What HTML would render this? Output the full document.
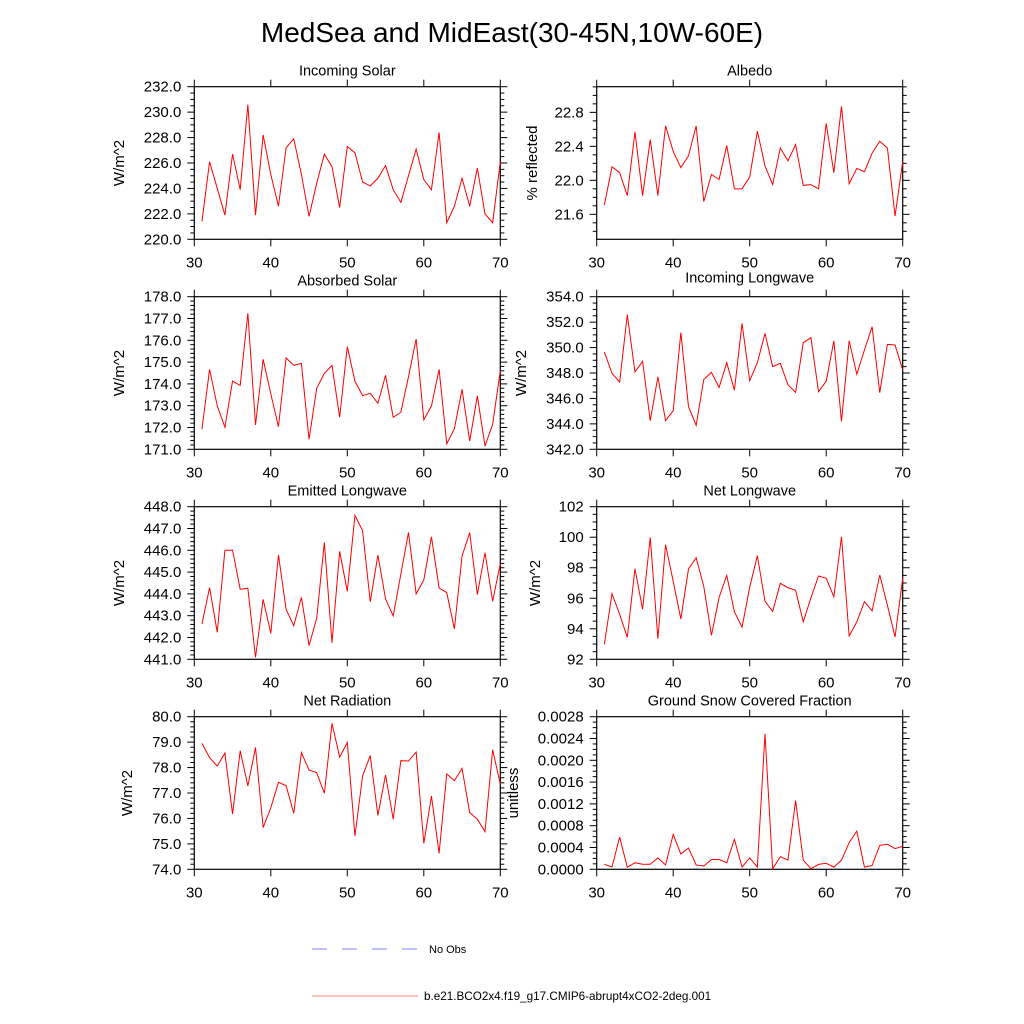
<!DOCTYPE html>
<html><head><meta charset="utf-8">
<style>
html,body{margin:0;padding:0;background:#fff;}
svg{display:block;font-family:"Liberation Sans",Arial,sans-serif;}
</style></head>
<body>
<svg id="chart" width="1024" height="1024" viewBox="0 0 1024 1024">
<text x="512" y="42" text-anchor="middle" font-size="28">MedSea and MidEast(30-45N,10W-60E)</text>
<g id="panels"></g>
<g>
  <line x1="312" y1="949" x2="418" y2="949" stroke="#8080ff" stroke-width="1" stroke-dasharray="15,15"/>
  <text x="429" y="953" font-size="11">No Obs</text>
  <line x1="312" y1="996" x2="418" y2="996" stroke="#ff8080" stroke-width="1"/>
  <text x="424" y="1000" font-size="11.7">b.e21.BCO2x4.f19_g17.CMIP6-abrupt4xCO2-2deg.001</text>
</g>
</svg>
<script>
const years = [31,32,33,34,35,36,37,38,39,40,41,42,43,44,45,46,47,48,49,50,51,52,53,54,55,56,57,58,59,60,61,62,63,64,65,66,67,68,69,70];
const incomingSolar = [221.4,226.1,224.0,221.9,226.7,223.9,230.6,221.9,228.2,225.1,222.6,227.2,227.9,225.1,221.8,224.4,226.7,225.7,222.5,227.3,226.8,224.5,224.2,224.8,225.8,223.9,222.9,225.0,227.1,224.7,223.9,228.4,221.3,222.6,224.8,222.6,225.6,222.0,221.3,226.1];
const albedo = [21.71,22.16,22.09,21.82,22.57,21.82,22.48,21.82,22.64,22.34,22.15,22.29,22.64,21.75,22.07,22.01,22.41,21.90,21.90,22.04,22.58,22.17,21.95,22.38,22.23,22.42,21.94,21.95,21.90,22.67,22.09,22.87,21.96,22.14,22.10,22.32,22.46,22.38,21.58,22.22];
const absorbedSolar = [171.92,174.67,172.99,172.01,174.13,173.93,177.24,172.12,175.13,173.54,172.04,175.19,174.85,174.94,171.46,173.80,174.48,174.85,172.47,175.71,174.12,173.46,173.57,173.11,174.39,172.47,172.70,174.33,176.06,172.35,172.99,174.67,171.25,171.95,173.75,171.38,173.45,171.15,172.15,174.61];
const incomingLongwave = [349.65,347.97,347.29,352.59,348.08,348.92,344.25,347.71,344.25,345.04,351.17,345.35,343.89,347.50,348.05,346.87,348.81,346.64,351.90,347.40,348.81,351.12,348.50,348.76,347.08,346.48,350.38,350.78,346.53,347.35,350.52,344.20,350.54,347.90,349.81,351.64,346.45,350.25,350.20,348.24];
const emittedLongwave = [442.62,444.29,442.24,446.00,446.01,444.21,444.26,441.09,443.75,442.19,445.78,443.29,442.54,443.84,441.63,442.88,446.36,441.76,445.95,444.12,447.60,446.90,443.64,445.78,443.77,442.99,444.91,446.82,444.00,444.64,446.62,444.27,444.06,442.39,445.74,446.81,443.97,445.89,443.66,445.40];
const netLongwave = [92.98,96.30,94.95,93.44,97.94,95.28,99.99,93.35,99.51,97.11,94.64,97.92,98.66,96.76,93.57,96.06,97.50,95.12,94.10,96.72,98.79,95.80,95.14,96.98,96.69,96.52,94.45,96.02,97.46,97.31,96.10,100.03,93.53,94.45,95.78,95.17,97.52,95.54,93.46,97.31];
const netRadiation = [78.95,78.39,78.06,78.57,76.17,78.66,77.28,78.79,75.64,76.42,77.42,77.29,76.20,78.59,77.90,77.80,76.99,79.74,78.41,78.99,75.31,77.67,78.47,76.12,77.71,75.97,78.27,78.26,78.61,75.02,76.88,74.63,77.75,77.48,77.97,76.23,75.97,75.48,78.70,77.35];
const snowFraction = [0.000092,0.000043,0.00059,0.000037,0.00012,0.000092,0.000092,0.00021,0.00008,0.00064,0.00028,0.00039,0.00008,0.00006,0.00018,0.00018,0.00012,0.00055,0.00004,0.00021,0.00004,0.00249,0.00001,0.00023,0.00017,0.00126,0.00017,0.00001,0.00009,0.00011,0.00004,0.00017,0.00049,0.0007,0.00004,0.00007,0.00044,0.00046,0.00038,0.00042];
const xTicks = [30,40,50,60,70];

const NS = 'http://www.w3.org/2000/svg';
const root = document.getElementById('panels');
function mk(tag, attrs, parent){
  const e = document.createElementNS(NS, tag);
  for (const k in attrs) e.setAttribute(k, attrs[k]);
  parent.appendChild(e);
  return e;
}
const panels = [
  {key:'incoming-solar', title:'Incoming Solar', ylab:'W/m^2', data:incomingSolar, col:0,row:0, ymin:220,ymax:232, major:2, minor:0.5, dec:1, titleDy:0, ylx:124},
  {key:'albedo', title:'Albedo', ylab:'% reflected', data:albedo, col:1,row:0, ymin:21.306,ymax:23.102, major:0.4, minor:0.1, dec:1, start:21.6, titleDy:0, ylx:537},
  {key:'absorbed-solar', title:'Absorbed Solar', ylab:'W/m^2', data:absorbedSolar, col:0,row:1, ymin:171,ymax:178, major:1, minor:0.2, dec:1, titleDy:0, ylx:124},
  {key:'incoming-longwave', title:'Incoming Longwave', ylab:'W/m^2', data:incomingLongwave, col:1,row:1, ymin:342,ymax:354, major:2, minor:0.5, dec:1, titleDy:-3, ylx:526},
  {key:'emitted-longwave', title:'Emitted Longwave', ylab:'W/m^2', data:emittedLongwave, col:0,row:2, ymin:441,ymax:448, major:1, minor:0.2, dec:1, titleDy:0, ylx:124},
  {key:'net-longwave', title:'Net Longwave', ylab:'W/m^2', data:netLongwave, col:1,row:2, ymin:92,ymax:102, major:2, minor:0.5, dec:0, titleDy:0, ylx:540},
  {key:'net-radiation', title:'Net Radiation', ylab:'W/m^2', data:netRadiation, col:0,row:3, ymin:74,ymax:80, major:1, minor:0.2, dec:1, titleDy:0, ylx:132},
  {key:'snow-fraction', title:'Ground Snow Covered Fraction', ylab:'unitless', data:snowFraction, col:1,row:3, ymin:0,ymax:0.0028, major:0.0004, minor:0.0001, dec:4, titleDy:0, ylx:518}
];
const colX = [194.3, 596.7], W = 306, rowY = [86.7, 296.7, 506.7, 716.7], H = 152.6;

panels.forEach(p => {
  const g = mk('g', {}, root);
  
  
  const L = colX[p.col], T = rowY[p.row], B = T + H, R = L + W;
  const sx = v => L + (v - 30) / 40 * W;
  const sy = v => B - (v - p.ymin) / (p.ymax - p.ymin) * H;
  const start = p.start !== undefined ? p.start : p.ymin;
  const nMinor = Math.round((p.ymax - p.ymin) / p.minor) + 20;
  const base = Math.ceil((p.ymin - 1e-9) / p.minor) * p.minor;
  for (let i = 0; i < nMinor; i++) {
    const v = base + i * p.minor;
    if (v > p.ymax + 1e-9) break;
    const isMajor = Math.abs(((v - start) / p.major) - Math.round((v - start) / p.major)) < 1e-4;
    const y = sy(v);
    const len = isMajor ? 7 : 4;
    const t1 = mk('line', {x1:L-len, y1:y, x2:L, y2:y, stroke:'#000', 'stroke-width':1}, g);
    
    
    const t2 = mk('line', {x1:R, y1:y, x2:R+len, y2:y, stroke:'#000', 'stroke-width':1}, g);
    
    
    if (isMajor) {
      const tl = mk('text', {x:L-13, y:y+5, 'text-anchor':'end', 'font-size':15}, g);
      tl.textContent = v.toFixed(p.dec);
      
      
    }
  }
  xTicks.forEach(t => {
    const x = sx(t);
    const a = mk('line', {x1:x, y1:B, x2:x, y2:B+7, stroke:'#000', 'stroke-width':1}, g);
    
    
    const b = mk('line', {x1:x, y1:T-7, x2:x, y2:T, stroke:'#000', 'stroke-width':1}, g);
    
    
    const tl = mk('text', {x:x, y:B+28, 'text-anchor':'middle', 'font-size':15}, g);
    tl.textContent = t;
    
    
  });
  const frame = mk('rect', {x:L, y:T, width:W, height:H, fill:'none', stroke:'#000', 'stroke-width':1.2}, g);
  
  
  const pts = p.data.map((v, i) => sx(years[i]).toFixed(2) + ',' + sy(v).toFixed(2)).join(' ');
  const line = mk('polyline', {points:pts, fill:'none', stroke:'#ff0000', 'stroke-width':1}, g);
  
  
  const title = mk('text', {x:L + W/2, y:T - 11 + p.titleDy, 'text-anchor':'middle', 'font-size':14.5}, g);
  title.textContent = p.title;
  
  
  const yl = mk('text', {x:0, y:0, 'text-anchor':'middle', 'font-size':15, transform:'translate(' + p.ylx + ',' + (T + H/2) + ') rotate(-90)'}, g);
  yl.textContent = p.ylab;
  
  
});
</script>
</body></html>
